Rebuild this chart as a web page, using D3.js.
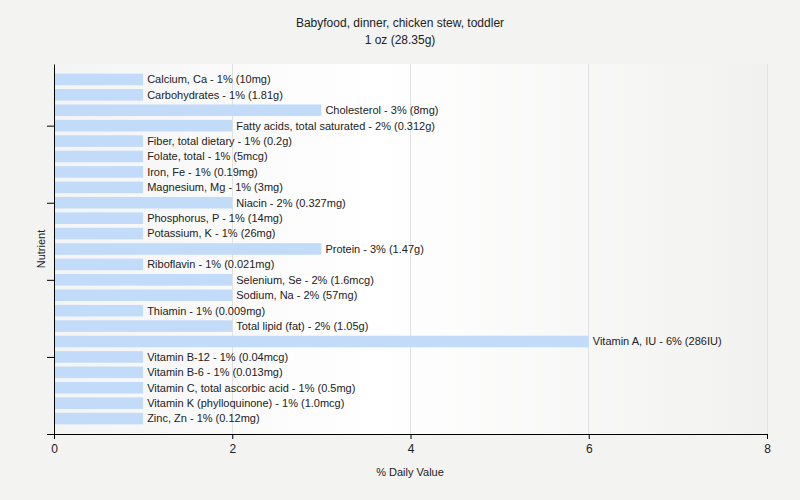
<!DOCTYPE html>
<html>
<head>
<meta charset="utf-8">
<script src="https://cdnjs.cloudflare.com/ajax/libs/d3/7.8.5/d3.min.js"></script>
<style>
html,body{margin:0;padding:0;background:#f3f3f1;}
svg{display:block;}
text{font-family:"Liberation Sans",Arial,sans-serif;}
</style>
</head>
<body>
<svg id="chart" width="800" height="500"></svg>
<script>
const nutrients = ["Calcium, Ca","Carbohydrates","Cholesterol","Fatty acids, total saturated","Fiber, total dietary","Folate, total","Iron, Fe","Magnesium, Mg","Niacin","Phosphorus, P","Potassium, K","Protein","Riboflavin","Selenium, Se","Sodium, Na","Thiamin","Total lipid (fat)","Vitamin A, IU","Vitamin B-12","Vitamin B-6","Vitamin C, total ascorbic acid","Vitamin K (phylloquinone)","Zinc, Zn"];
const dailyValues = [1,1,3,2,1,1,1,1,2,1,1,3,1,2,2,1,2,6,1,1,1,1,1];
const amounts = ["10mg","1.81g","8mg","0.312g","0.2g","5mcg","0.19mg","3mg","0.327mg","14mg","26mg","1.47g","0.021mg","1.6mcg","57mg","0.009mg","1.05g","286IU","0.04mcg","0.013mg","0.5mg","1.0mcg","0.12mg"];
const xTicks = [0,2,4,6,8];
const yTicks = [0,5,10,15,20];
const titleText = "Babyfood, dinner, chicken stew, toddler";
const subtitleText = "1 oz (28.35g)";

(function(){
const svg = d3.select("#chart");
const mLeft = 54, mRight = 767, mTop = 64, mBottom = 434;
const n = nutrients.length;

const x = d3.scaleLinear().domain([0, 8]).range([mLeft, mRight]);
const y = d3.scaleLinear().domain([0, n + 1]).range([mBottom, mTop]);
const pos = i => n - i;
const step = Math.abs(y(1) - y(0));
const barH = step * 0.75;

const defs = svg.append("defs");
const grad = defs.append("linearGradient").attr("id","bg").attr("x1","0%").attr("x2","100%").attr("y1","0%").attr("y2","0%");
grad.append("stop").attr("offset","0%").attr("stop-color","#f4f4f4");
grad.append("stop").attr("offset","45%").attr("stop-color","#ffffff");
grad.append("stop").attr("offset","100%").attr("stop-color","#f1f1f0");
svg.append("rect").attr("x", mLeft).attr("y", mTop).attr("width", mRight - mLeft).attr("height", mBottom - mTop).attr("fill","url(#bg)");

svg.append("g").selectAll("line").data(xTicks.filter(d => d > 0)).join("line")
  .attr("x1", d => x(d)).attr("x2", d => x(d)).attr("y1", mTop).attr("y2", mBottom)
  .attr("stroke", "#e2e2e2").attr("stroke-width", 1).attr("shape-rendering","crispEdges");

svg.append("g").selectAll("rect").data(nutrients).join("rect")
  .attr("x", x(0))
  .attr("y", (d, i) => y(pos(i)) - barH / 2)
  .attr("width", (d, i) => x(dailyValues[i]) - x(0))
  .attr("height", barH)
  .attr("fill", "#c2dbf9");

svg.append("g").selectAll("text").data(nutrients).join("text")
  .attr("x", (d, i) => x(dailyValues[i]) + 4)
  .attr("y", (d, i) => y(pos(i)))
  .attr("dy", "0.35em")
  .attr("font-size", "11px")
  .attr("fill", "#222")
  .text((d, i) => `${d} - ${dailyValues[i]}% (${amounts[i]})`);

const xAxis = svg.append("g").attr("transform", `translate(0,${mBottom})`)
  .call(d3.axisBottom(x).tickValues(xTicks).tickSize(5).tickSizeOuter(0).tickFormat(d3.format("d")));
xAxis.select(".domain").attr("stroke", "#000");
xAxis.selectAll(".tick line").attr("stroke", "#000");
xAxis.selectAll(".tick text").attr("font-size", "12px").attr("fill", "#222").attr("font-family", "Liberation Sans, Arial, sans-serif").attr("dy", "0.9em");

const yAxis = svg.append("g").attr("transform", `translate(${mLeft},0)`)
  .call(d3.axisLeft(y).tickValues(yTicks).tickSize(7).tickSizeOuter(0).tickFormat(""));
yAxis.select(".domain").attr("stroke", "#000");
yAxis.selectAll(".tick line").attr("stroke", "#000");

svg.append("text").attr("x", 400).attr("y", 27).attr("text-anchor","middle").attr("font-size","12px").attr("fill","#222").text(titleText);
svg.append("text").attr("x", 400).attr("y", 44).attr("text-anchor","middle").attr("font-size","12px").attr("fill","#222").text(subtitleText);
svg.append("text").attr("x", 410).attr("y", 476).attr("text-anchor","middle").attr("font-size","11px").attr("fill","#222").text("% Daily Value");
svg.append("text").attr("transform", "translate(45,249) rotate(-90)").attr("text-anchor","middle").attr("font-size","11px").attr("fill","#222").text("Nutrient");
})();
</script>
</body>
</html>
